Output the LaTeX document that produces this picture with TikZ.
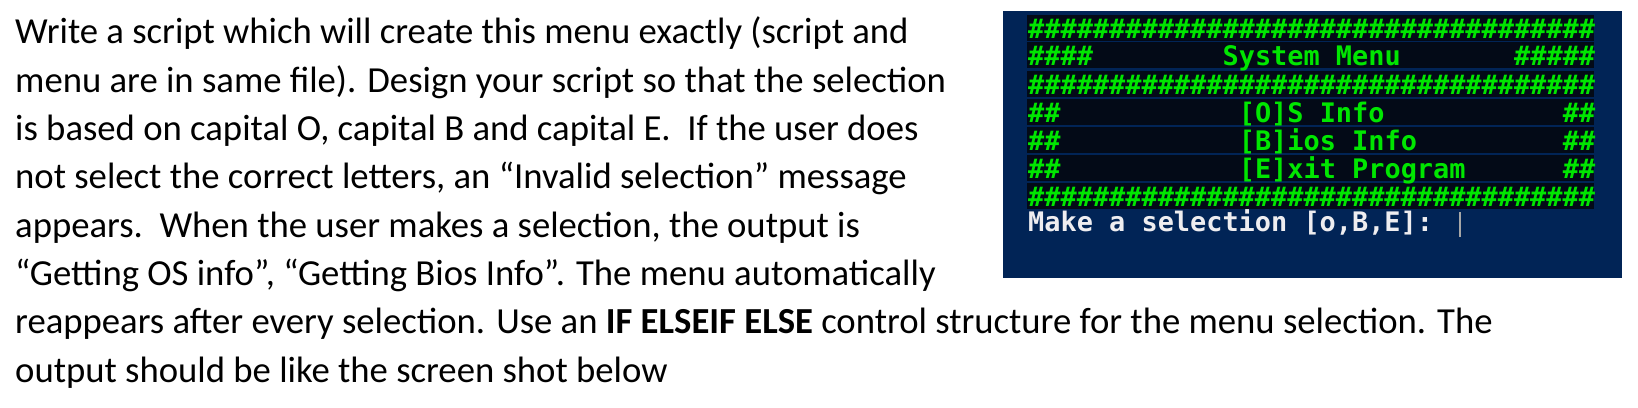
\documentclass[tikz,border=0pt]{standalone}
\usepackage{fontspec}
\setmainfont{Carlito}
\newfontfamily\monof{DejaVu Sans Mono}
\definecolor{psblue}{HTML}{012456}
\definecolor{band}{HTML}{030A17}
\definecolor{tgreen}{HTML}{00E600}
\definecolor{twhite}{HTML}{EEEDF0}
\begin{document}
\begin{tikzpicture}[x=1pt,y=-1pt,
  para/.style={anchor=base west,inner sep=0pt,font=\fontsize{36.7}{40}\selectfont},
  mono/.style={anchor=base west,inner sep=0pt,font=\monof\bfseries\fontsize{26.9}{30}\selectfont,text=tgreen},
  prompt/.style={mono,text=twhite}]
\useasboundingbox (0,0) rectangle (1638,407);
\fill[white] (0,0) rectangle (1638,407);
% paragraph
\node[para] (l1) at (15,43) {Write a script which will create this menu exactly (script and};
\node[para] (l2) at (15,92) {menu are in same file). Design your script so that the selection};
\node[para] (l3) at (15,140) {is based on capital O, capital B and capital E.\ \ If the user does};
\node[para] (l4) at (15,188) {not select the correct letters, an “Invalid selection” message};
\node[para] (l5) at (15,237) {appears.\ \ When the user makes a selection, the output is};
\node[para] (l6) at (15,285) {“Getting OS info”, “Getting Bios Info”. The menu automatically};
\node[para] (l7) at (15,333) {reappears after every selection. Use an \textbf{IF ELSEIF ELSE} control structure for the menu selection. The};
\node[para] (l8) at (15,382) {output should be like the screen shot below};
% screenshot
\fill[psblue] (1003,11) rectangle (1622,278);
\foreach \t in {15,42,71,99,127,155,183}{\fill[band] (1027,\t) rectangle (1594,\t+26);}
\def\cw{16.2}
\def\xo{1028}
\node[mono] (r1) at (\xo,38) {\#\#\#\#\#\#\#\#\#\#\#\#\#\#\#\#\#\#\#\#\#\#\#\#\#\#\#\#\#\#\#\#\#\#\#};
\node[mono] (r2a) at (\xo,65) {\#\#\#\#};
\node[mono] (r2b) at (\xo+12*\cw,65) {System Menu};
\node[mono] (r2c) at (\xo+30*\cw,65) {\#\#\#\#\#};
\node[mono] (r3) at (\xo,94) {\#\#\#\#\#\#\#\#\#\#\#\#\#\#\#\#\#\#\#\#\#\#\#\#\#\#\#\#\#\#\#\#\#\#\#};
\node[mono] (r4a) at (\xo,122) {\#\#};
\node[mono] (r4b) at (\xo+13*\cw,122) {[O]S Info};
\node[mono] (r4c) at (\xo+33*\cw,122) {\#\#};
\node[mono] (r5a) at (\xo,150) {\#\#};
\node[mono] (r5b) at (\xo+13*\cw,150) {[B]ios Info};
\node[mono] (r5c) at (\xo+33*\cw,150) {\#\#};
\node[mono] (r6a) at (\xo,178) {\#\#};
\node[mono] (r6b) at (\xo+13*\cw,178) {[E]xit Program};
\node[mono] (r6c) at (\xo+33*\cw,178) {\#\#};
\node[mono] (r7) at (\xo,206) {\#\#\#\#\#\#\#\#\#\#\#\#\#\#\#\#\#\#\#\#\#\#\#\#\#\#\#\#\#\#\#\#\#\#\#};
\node[prompt] (pr) at (\xo,231) {Make a selection [o,B,E]:};
\fill[gray!70] (\xo+26.6*\cw,212) rectangle (\xo+26.6*\cw+2,237);
\end{tikzpicture}
\end{document}
